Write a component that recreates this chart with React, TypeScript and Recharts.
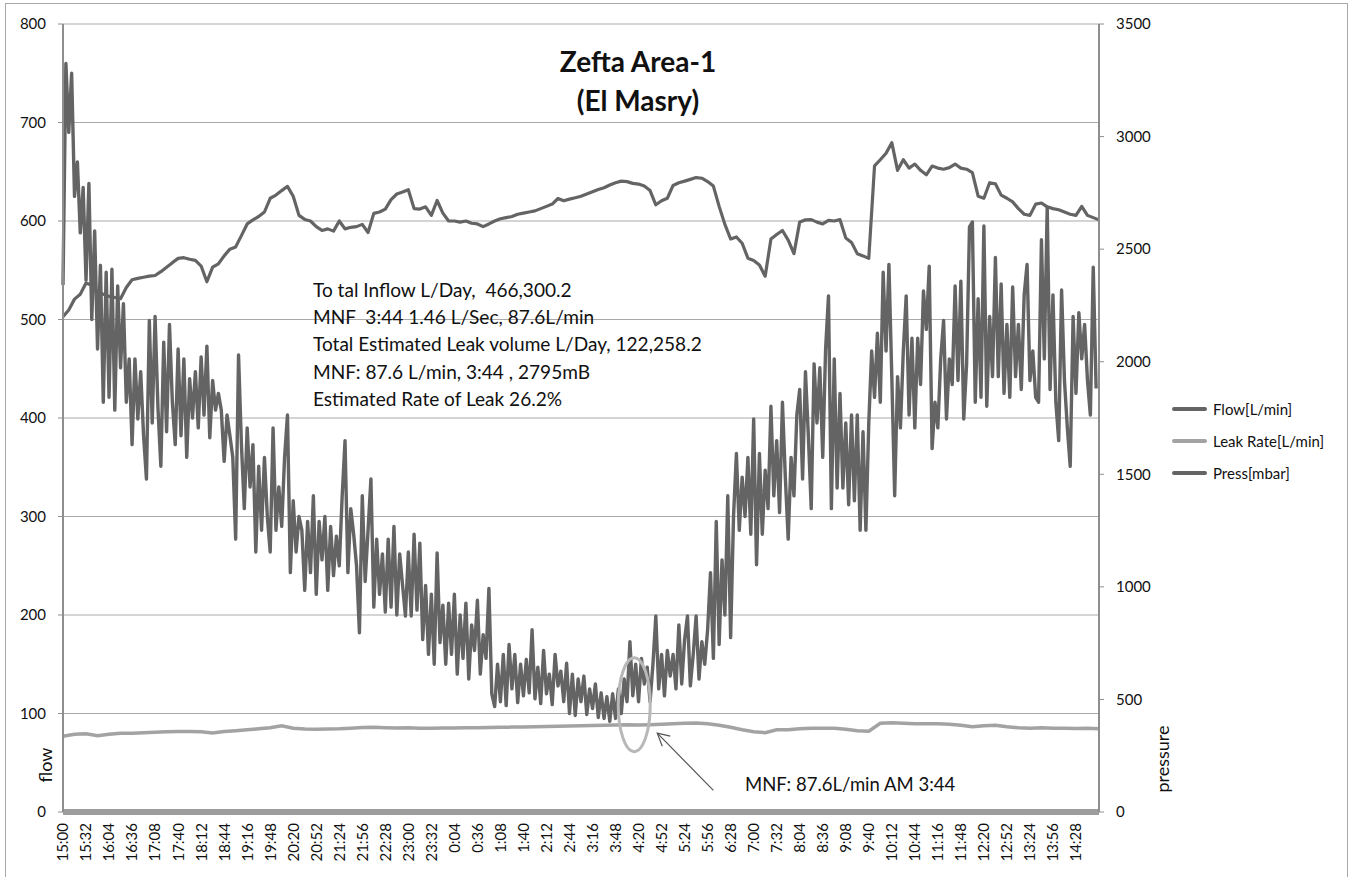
import React from 'react'
import { LineChart, Line, XAxis, YAxis, CartesianGrid, ReferenceDot, ReferenceLine } from 'recharts'

// x axis: minutes after 15:00, one label every 32 min
const TIME_LABELS = [
  '15:00', '15:32', '16:04', '16:36', '17:08', '17:40', '18:12', '18:44', '19:16', '19:48',
  '20:20', '20:52', '21:24', '21:56', '22:28', '23:00', '23:32', '0:04', '0:36', '1:08',
  '1:40', '2:12', '2:44', '3:16', '3:48', '4:20', '4:52', '5:24', '5:56', '6:28',
  '7:00', '7:32', '8:04', '8:36', '9:08', '9:40', '10:12', '10:44', '11:16', '11:48',
  '12:20', '12:52', '13:24', '13:56', '14:28',
]
const LABEL_STEP = 32

// Flow [L/min], one reading every 4 min (one row per hour)
const FLOW_STEP = 4
const FLOW = [
  535, 760, 690, 750, 625, 660, 588, 634, 540, 638, 500, 590, 470, 555, 416,
  548, 421, 551, 408, 534, 451, 516, 416, 460, 373, 460, 399, 447, 382, 338,
  499, 395, 503, 410, 351, 477, 386, 495, 416, 373, 470, 382, 460, 360, 440,
  400, 447, 390, 462, 403, 473, 380, 438, 408, 425, 408, 356, 403, 382, 360,
  277, 464, 373, 308, 390, 330, 373, 264, 351, 286, 360, 300, 264, 390, 286,
  330, 290, 360, 403, 243, 316, 264, 300, 286, 225, 295, 243, 321, 221, 295,
  256, 300, 225, 290, 240, 280, 250, 320, 377, 243, 308, 282, 250, 182, 321,
  234, 286, 338, 208, 277, 221, 262, 203, 277, 208, 290, 200, 262, 230, 199,
  264, 199, 282, 205, 273, 175, 230, 160, 221, 150, 263, 172, 210, 150, 212,
  160, 221, 140, 200, 156, 212, 135, 190, 164, 215, 140, 180, 156, 227, 120,
  107, 150, 112, 160, 108, 170, 125, 160, 111, 150, 118, 155, 121, 185, 115,
  147, 110, 164, 120, 140, 109, 160, 128, 143, 112, 151, 100, 140, 98, 135,
  112, 138, 99, 125, 105, 130, 96, 121, 95, 117, 92, 120, 95, 125, 100,
  135, 112, 173, 118, 150, 112, 156, 130, 147, 112, 150, 199, 125, 160, 118,
  164, 138, 160, 125, 190, 130, 175, 199, 128, 160, 199, 135, 173, 150, 185,
  243, 156, 295, 170, 256, 200, 321, 177, 300, 364, 286, 340, 300, 360, 282,
  399, 251, 364, 282, 347, 308, 412, 321, 377, 304, 416, 340, 277, 360, 321,
  403, 429, 338, 447, 382, 308, 455, 395, 451, 360, 470, 524, 308, 460, 329,
  425, 329, 395, 312, 403, 316, 403, 286, 386, 286, 395, 468, 421, 486, 416,
  548, 468, 556, 442, 321, 442, 390, 468, 524, 403, 481, 390, 481, 434, 529,
  490, 554, 369, 416, 390, 460, 499, 399, 460, 434, 534, 438, 539, 399, 455,
  594, 599, 416, 521, 421, 595, 412, 503, 442, 563, 442, 536, 425, 495, 421,
  533, 442, 495, 429, 525, 556, 438, 468, 421, 416, 581, 460, 614, 429, 525,
  416, 377, 530, 438, 390, 351, 503, 425, 507, 460, 495, 438, 403, 553, 430,
]

// Press [mbar], every 8 min (one row per two hours)
const PRESS_STEP = 8
const PRESS = [
  2200, 2230, 2278, 2300, 2350, 2340, 2310, 2300, 2290, 2285, 2280, 2330, 2364, 2370, 2375,
  2380, 2383, 2400, 2420, 2440, 2459, 2462, 2455, 2450, 2425, 2355, 2420, 2435, 2470, 2500,
  2510, 2560, 2612, 2630, 2645, 2665, 2726, 2740, 2760, 2779, 2735, 2650, 2632, 2625, 2600,
  2583, 2590, 2580, 2625, 2590, 2597, 2600, 2610, 2574, 2659, 2665, 2678, 2720, 2745, 2754,
  2764, 2680, 2678, 2688, 2650, 2716, 2660, 2625, 2625, 2620, 2625, 2615, 2612, 2600, 2612,
  2625, 2635, 2640, 2645, 2655, 2660, 2665, 2670, 2680, 2690, 2700, 2725, 2715, 2722, 2728,
  2735, 2745, 2755, 2765, 2773, 2785, 2795, 2802, 2800, 2792, 2789, 2780, 2760, 2697, 2715,
  2726, 2783, 2795, 2802, 2810, 2818, 2815, 2800, 2780, 2690, 2610, 2545, 2554, 2526, 2460,
  2450, 2430, 2380, 2545, 2565, 2583, 2540, 2480, 2621, 2630, 2631, 2620, 2612, 2628, 2625,
  2631, 2550, 2530, 2480, 2470, 2459, 2870, 2897, 2926, 2973, 2850, 2897, 2860, 2878, 2850,
  2830, 2869, 2860, 2855, 2862, 2878, 2860, 2855, 2840, 2735, 2726, 2795, 2790, 2740, 2726,
  2710, 2680, 2655, 2650, 2700, 2705, 2688, 2680, 2675, 2665, 2655, 2650, 2690, 2650, 2640,
  2630,
]

// Leak Rate [L/min], every 16 min
const LEAK_STEP = 16
const LEAK = [
  77, 79, 79.5, 77.5, 79, 80, 80, 80.5, 81, 81.5, 81.6, 81.8, 81.5, 80.3, 81.8,
  82.6, 83.5, 84.5, 85.5, 87.5, 85, 84.3, 84, 84.2, 84.4, 85, 85.7, 86, 85.5, 85.2,
  85.5, 85, 85, 85.2, 85.3, 85.5, 85.6, 85.7, 86, 86.2, 86.4, 86.6, 86.8, 87, 87.3,
  87.5, 87.7, 88, 88.4, 88.5, 88.2, 88.6, 89, 89.5, 90, 90.3, 89.5, 88, 86, 83.5,
  81.5, 80.5, 83.5, 83.5, 84.5, 85, 85, 85, 84, 82.5, 82, 90, 90.5, 90, 89.5,
  89.5, 89.5, 89, 88, 86.5, 87.5, 88, 86.5, 85.5, 85, 85.5, 85, 85, 84.8, 85,
  84.5,
]

const FLOW_TICKS = [0, 100, 200, 300, 400, 500, 600, 700, 800]
const PRESS_TICKS = [0, 500, 1000, 1500, 2000, 2500, 3000, 3500]

const NOTES = [
  'To tal Inflow L/Day,  466,300.2',
  'MNF  3:44 1.46 L/Sec, 87.6L/min',
  'Total Estimated Leak volume L/Day, 122,258.2',
  'MNF: 87.6 L/min, 3:44 , 2795mB',
  'Estimated Rate of Leak 26.2%',
]

const SERIES = [
  { name: 'Flow[L/min]', color: '#646464' },
  { name: 'Leak Rate[L/min]', color: '#a3a3a3' },
  { name: 'Press[mbar]', color: '#646464' },
]

const FONT = 'Lato, "Open Sans", sans-serif'
const AXIS_GRAY = '#8e8e8e'

const flowData = FLOW.map((v, i) => ({ t: i * FLOW_STEP, flow: v }))
const pressData = PRESS.map((v, i) => ({ t: i * PRESS_STEP, press: v }))
const leakData = LEAK.map((v, i) => ({ t: i * LEAK_STEP, leak: v }))

const TimeTick = ({ x, y, payload }: any) => (
  <g transform={`translate(${x},${y})`}>
    <text
      transform="rotate(-90)"
      x={-11}
      dy="0.36em"
      textAnchor="end"
      fontSize={15}
      fontFamily={FONT}
      fill="#111"
    >
      {TIME_LABELS[Math.round(payload.value / LABEL_STEP)]}
    </text>
  </g>
)

// MNF ring around the minimum night flow
const MnfRing = ({ cx, cy }: any) => (
  <ellipse cx={cx} cy={cy} rx={16} ry={47} fill="none" stroke="#b8b8b8" strokeWidth={3} />
)

const ArrowHead = ({ cx, cy }: any) => (
  <polyline
    points={`${cx + 13},${cy + 3} ${cx},${cy} ${cx + 5},${cy + 13}`}
    fill="none"
    stroke="#555"
    strokeWidth={1.2}
  />
)

export default function App() {
  return (
    <div
      style={{
        position: 'absolute',
        left: 0,
        top: 0,
        width: 1352,
        height: 877,
        background: '#fff',
        fontFamily: FONT,
        overflow: 'hidden',
      }}
    >
      {/* chart frame */}
      <div
        style={{
          position: 'absolute',
          left: 5,
          top: 3,
          width: 1341,
          height: 880,
          border: '1.5px solid #a8a8a8',
        }}
      />

      <LineChart width={1352} height={877} margin={{ top: 24, right: 193, bottom: 0, left: 0 }}>
        <CartesianGrid yAxisId="left" vertical={false} stroke="#a9a9a9" strokeWidth={1} />
        <XAxis
          dataKey="t"
          type="number"
          domain={[0, 1440]}
          ticks={TIME_LABELS.map((_, i) => i * LABEL_STEP)}
          interval={0}
          height={65}
          tickLine={false}
          tickSize={0}
          tickMargin={0}
          tick={<TimeTick />}
          axisLine={{ stroke: '#9d9d9d', strokeWidth: 6 }}
        />
        <YAxis
          yAxisId="left"
          orientation="left"
          width={63}
          domain={[0, 800]}
          ticks={FLOW_TICKS}
          interval={0}
          tickSize={5}
          tickMargin={12}
          tickLine={{ stroke: AXIS_GRAY }}
          axisLine={{ stroke: AXIS_GRAY, strokeWidth: 2 }}
          tick={{ fontSize: 15, fill: '#111', fontFamily: FONT }}
        />
        <YAxis
          yAxisId="right"
          orientation="right"
          width={60}
          domain={[0, 3500]}
          ticks={PRESS_TICKS}
          interval={0}
          tickSize={5}
          tickMargin={12}
          tickLine={{ stroke: AXIS_GRAY }}
          axisLine={{ stroke: AXIS_GRAY, strokeWidth: 2 }}
          tick={{ fontSize: 15, fill: '#111', fontFamily: FONT }}
        />

        <Line
          data={flowData}
          yAxisId="left"
          dataKey="flow"
          name={SERIES[0].name}
          type="linear"
          stroke={SERIES[0].color}
          strokeWidth={3.4}
          strokeLinejoin="round"
          dot={false}
          isAnimationActive={false}
        />
        <Line
          data={leakData}
          yAxisId="left"
          dataKey="leak"
          name={SERIES[1].name}
          type="linear"
          stroke={SERIES[1].color}
          strokeWidth={3.5}
          dot={false}
          isAnimationActive={false}
        />
        <Line
          data={pressData}
          yAxisId="right"
          dataKey="press"
          name={SERIES[2].name}
          type="linear"
          stroke={SERIES[2].color}
          strokeWidth={3.2}
          strokeLinejoin="round"
          dot={false}
          isAnimationActive={false}
        />

        <ReferenceDot yAxisId="left" x={794} y={109} r={0} shape={<MnfRing />} />
        <ReferenceLine
          yAxisId="left"
          segment={[{ x: 904, y: 22 }, { x: 826, y: 80 }]}
          stroke="#555"
          strokeWidth={1.2}
        />
        <ReferenceDot yAxisId="left" x={826} y={80} r={0} shape={<ArrowHead />} />
      </LineChart>

      {/* title */}
      <div
        style={{
          position: 'absolute',
          left: 438,
          top: 42,
          width: 400,
          textAlign: 'center',
          fontWeight: 700,
          fontSize: 28,
          lineHeight: '39px',
          color: '#111',
        }}
      >
        <div>Zefta Area-1</div>
        <div>(El Masry)</div>
      </div>

      {/* summary */}
      <div
        style={{
          position: 'absolute',
          left: 313,
          top: 277,
          fontSize: 18.5,
          lineHeight: '27.2px',
          color: '#111',
          whiteSpace: 'pre',
          transform: 'scaleX(1.03)',
          transformOrigin: 'left top',
        }}
      >
        {NOTES.map((n) => (
          <div key={n}>{n}</div>
        ))}
      </div>

      <div
        style={{
          position: 'absolute',
          left: 745,
          top: 772,
          fontSize: 18.5,
          lineHeight: '24px',
          color: '#111',
          whiteSpace: 'pre',
        }}
      >
        MNF: 87.6L/min AM 3:44
      </div>

      {/* axis titles */}
      <div
        style={{
          position: 'absolute',
          left: 45,
          top: 765,
          transform: 'translate(-50%, -50%) rotate(-90deg)',
          fontSize: 18,
          color: '#111',
        }}
      >
        flow
      </div>
      <div
        style={{
          position: 'absolute',
          left: 1162,
          top: 759,
          transform: 'translate(-50%, -50%) rotate(-90deg)',
          fontSize: 18,
          color: '#111',
        }}
      >
        pressure
      </div>

      {/* legend */}
      <div style={{ position: 'absolute', left: 1172, top: 393 }}>
        {SERIES.map((s) => (
          <div key={s.name} style={{ display: 'flex', alignItems: 'center', height: 32 }}>
            <span style={{ width: 35, height: 4, background: s.color, borderRadius: 2, marginRight: 6 }} />
            <span style={{ fontSize: 15, color: '#111' }}>{s.name}</span>
          </div>
        ))}
      </div>
    </div>
  )
}
